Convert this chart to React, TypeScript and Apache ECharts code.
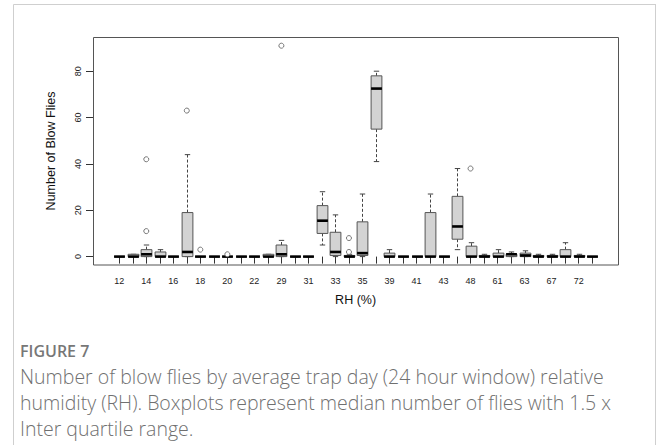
import React, { useEffect, useRef } from "react";
import * as echarts from "echarts";

// Relative humidity categories (only every other label is shown on the axis)
const rhLevels = ["12","13","14","15","16","17","18","19","20","21","22","27","29","30","31","32","33","34","35","37","39","40","41","42","43","45","48","55","61","62","63","65","67","70","72","74"];

// Box statistics per category
const whiskerLow = [0,0,0,0,0,0,0,0,0,0,0,0,0,0,0,5,0,0,0,41,0,0,0,0,0,3,0,0,0,0,0,0,0,0,0,0];
const quartile1  = [0,0,0,0,0,0,0,0,0,0,0,0,0,0,0,10,0.5,0,0.5,55,0,0,0,0,0,7.5,0,0,0,0,0,0,0,0,0,0];
const medians    = [0,0,1,0,0,2,0,0,0,0,0,0,1,0,0,15.5,2,0,1.5,72.5,0,0,0,0,0,13,0,0,0,1,0.5,0,0,0,0,0];
const quartile3  = [0,1,3,2,0,19,0,0,0,0,0,1,5,0,0,22,10.5,0.5,15,78,1.5,0,0,19,0,26,4.5,0.5,1.5,1,1.5,0.5,0.5,3,0.5,0];
const whiskerHigh= [0,1,5,3,0,44,0,0,0,0,0,1,7,0,0,28,18,1,27,80,3,0,0,27,0,38,6,1,3,2,2.5,1,1,6,1,0];

// Outliers: [category index, value]
const outliers = [[2,11],[2,42],[5,63],[6,3],[8,1],[12,91],[17,2],[17,8],[26,38]];

const yTicks = { min: 0, max: 80, interval: 20 };

const captionTitle = "FIGURE 7";
const captionLines = [
  "Number of blow flies by average trap day (24 hour window) relative",
  "humidity (RH). Boxplots represent median number of flies with 1.5 x",
  "Inter quartile range.",
];

export default function App() {
  const ref = useRef<HTMLDivElement>(null);

  useEffect(() => {
    if (!ref.current) return;
    const chart = echarts.init(ref.current, null, { renderer: "svg" });

    const boxData = rhLevels.map((_, i) => [i, whiskerLow[i], quartile1[i], medians[i], quartile3[i], whiskerHigh[i]]);

    const boxStroke = "#555";
    const font = "'Liberation Sans', Arial, sans-serif";

    const renderItem = (params: any, api: any) => {
      const x = api.value(0);
      const vMin = api.value(1), vQ1 = api.value(2), vMed = api.value(3), vQ3 = api.value(4), vMax = api.value(5);
      const band = api.size([1, 0])[0];
      const bw = band * 0.8;
      const half = bw / 2;
      const st = bw / 4;
      const pMin = api.coord([x, vMin]);
      const pQ1 = api.coord([x, vQ1]);
      const pMed = api.coord([x, vMed]);
      const pQ3 = api.coord([x, vQ3]);
      const pMax = api.coord([x, vMax]);
      const cx = Math.round(pMed[0]) + 0.5;
      const children: any[] = [];
      const dash = { stroke: "#444", lineWidth: 1, lineDash: [3, 2] };
      if (vMax > vQ3) children.push({ type: "line", shape: { x1: cx, y1: pQ3[1], x2: cx, y2: pMax[1] }, style: dash });
      if (vMin < vQ1) children.push({ type: "line", shape: { x1: cx, y1: pQ1[1], x2: cx, y2: pMin[1] }, style: dash });
      children.push({ type: "line", shape: { x1: cx - st, y1: pMax[1], x2: cx + st, y2: pMax[1] }, style: { stroke: "#444", lineWidth: 1 } });
      children.push({ type: "line", shape: { x1: cx - st, y1: pMin[1], x2: cx + st, y2: pMin[1] }, style: { stroke: "#444", lineWidth: 1 } });
      children.push({
        type: "rect",
        shape: { x: cx - half, y: pQ3[1], width: bw, height: pQ1[1] - pQ3[1] },
        style: { fill: "#d3d3d3", stroke: boxStroke, lineWidth: 1 },
      });
      children.push({ type: "line", shape: { x1: cx - half, y1: pMed[1], x2: cx + half, y2: pMed[1] }, style: { stroke: "#000", lineWidth: 2.6 } });
      return { type: "group", children };
    };

    chart.setOption({
      animation: false,
      backgroundColor: "#fff",
      grid: { left: 112.5, width: 486.4, top: 71.2, height: 185.4, containLabel: false },
      xAxis: {
        type: "category",
        data: rhLevels,
        boundaryGap: true,
        offset: 8.4,
        axisLine: { show: false },
        axisTick: { show: true, alignWithLabel: true, interval: 0, length: 7, lineStyle: { color: "#333", width: 1 } },
        axisLabel: { interval: 1, fontSize: 9, color: "#222", margin: 11, fontFamily: font },
        splitLine: { show: false },
      },
      yAxis: {
        type: "value",
        min: yTicks.min,
        max: yTicks.max,
        interval: yTicks.interval,
        offset: 19.5,
        axisLine: { show: false },
        axisTick: { show: true, length: 7, lineStyle: { color: "#333", width: 1 } },
        axisLabel: { rotate: 90, fontSize: 9, color: "#222", margin: 11, fontFamily: font },
        splitLine: { show: false },
      },
      series: [
        {
          type: "custom",
          renderItem,
          data: boxData,
          encode: { x: 0, y: [1, 2, 3, 4, 5] },
          clip: false,
          z: 2,
        },
        {
          type: "scatter",
          data: outliers,
          symbol: "circle",
          symbolSize: 5,
          clip: false,
          itemStyle: { color: "#fff", borderColor: "#666", borderWidth: 0.9, opacity: 1 },
          z: 3,
        },
      ],
      graphic: [
        { type: "line", shape: { x1: 13.5, y1: 4.5, x2: 13.5, y2: 445 }, style: { stroke: "#cfcfcf", lineWidth: 1 }, silent: true },
        { type: "line", shape: { x1: 13.5, y1: 4.5, x2: 656, y2: 4.5 }, style: { stroke: "#cfcfcf", lineWidth: 1 }, silent: true },
        { type: "line", shape: { x1: 655.5, y1: 4.5, x2: 655.5, y2: 445 }, style: { stroke: "#cfcfcf", lineWidth: 1 }, silent: true },
        { type: "rect", shape: { x: 93.5, y: 37.5, width: 525, height: 227.5 }, style: { fill: "none", stroke: "#555", lineWidth: 1 }, silent: true, z: 1 },
        {
          type: "text", x: 51, y: 151, rotation: Math.PI / 2,
          style: { text: "Number of Blow Flies", fontSize: 12.5, fontFamily: font, fill: "#111", align: "center", verticalAlign: "middle" },
        },
        {
          type: "text", x: 355.6, y: 300,
          style: { text: "RH (%)", fontSize: 12.5, fontFamily: font, fill: "#111", align: "center", verticalAlign: "middle" },
        },
        {
          type: "text", x: 20, y: 351,
          style: { text: captionTitle, fontSize: 16, fontWeight: 600, fontFamily: "'Open Sans', sans-serif", fill: "#777", align: "left", verticalAlign: "middle" },
        },
        ...captionLines.map((t, k) => ({
          type: "text", x: 20, y: 376 + k * 26,
          style: { text: t, fontSize: 19.5, fontWeight: 300, fontFamily: "'Open Sans', sans-serif", fill: "#707070", align: "left", verticalAlign: "middle" },
        })),
      ],
    });

    return () => chart.dispose();
  }, []);

  return <div ref={ref} style={{ position: "fixed", left: 0, top: 0, width: 656, height: 445 }} />;
}
